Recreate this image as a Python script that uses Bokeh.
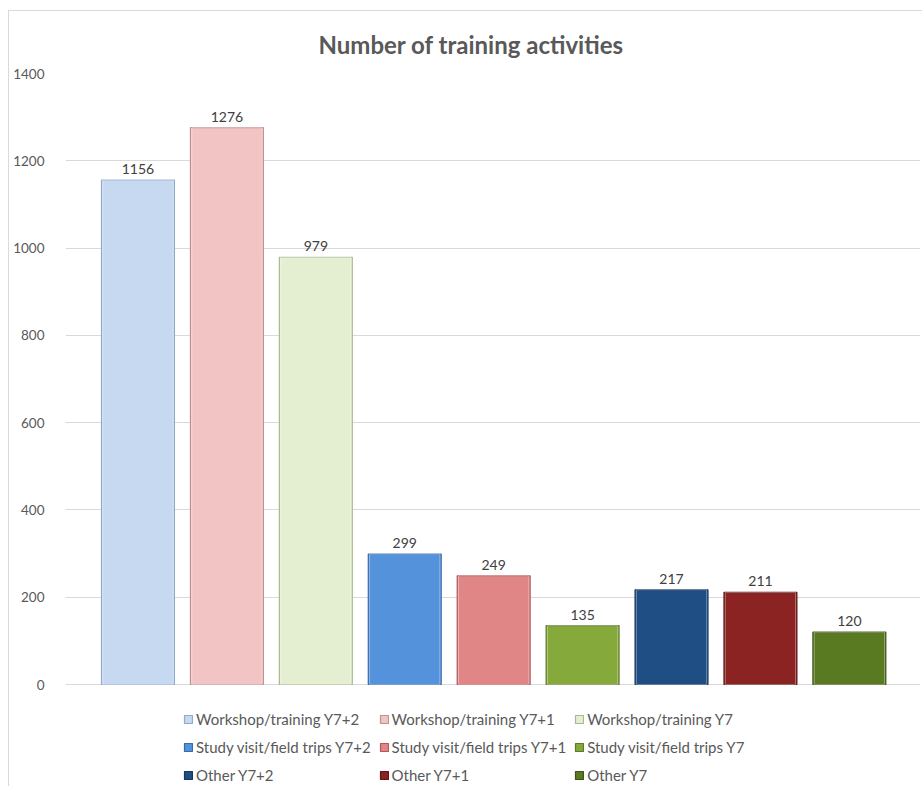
from bokeh.plotting import figure
from bokeh.models import (ColumnDataSource, Range1d, Legend, LegendItem, FixedTicker, Title)
from bokeh.embed import file_html
from bokeh.resources import INLINE
from bokeh.core.properties import value

categories = ["Workshop/training Y7+2", "Workshop/training Y7+1", "Workshop/training Y7",
              "Study visit/field trips Y7+2", "Study visit/field trips Y7+1", "Study visit/field trips Y7",
              "Other Y7+2", "Other Y7+1", "Other Y7"]
counts = [1156, 1276, 979, 299, 249, 135, 217, 211, 120]
fills = ["#c6d9f0", "#f2c4c4", "#e4efd1", "#5592dc", "#e08686", "#86a93b", "#1f4e85", "#8b2322", "#5a7a22"]
lines = ["#8eaacc", "#c09090", "#a8b890", "#3a6aa8", "#b05a5a", "#5e7a28", "#16365c", "#5e1616", "#3d5416"]
y_ticks = [0, 200, 400, 600, 800, 1000, 1200, 1400]

FONT = "Lato"
GREY = "#595959"

src = ColumnDataSource(dict(x=list(range(len(categories))), y=counts, fill=fills, line=lines,
                            label=[str(c) for c in counts], name=categories))

# figure offset by the chart-area border (left 8px, top 10px); frame spans the 1400 line
# down to the page bottom so that the legend fits inside it
p = figure(width=914, height=776, output_backend="svg", toolbar_location=None,
           x_range=Range1d(-0.815, 8.80), y_range=Range1d(-236, 1400),
           min_border_left=56, min_border_right=3, min_border_top=62, min_border_bottom=0)
p.styles = {"margin-left": "8px", "margin-top": "10px",
            "border-left": "1px solid #d9d9d9", "border-top": "1px solid #d9d9d9"}
p.outline_line_color = None
p.background_fill_color = "white"
p.border_fill_color = "white"

bars = p.vbar(x="x", top="y", bottom=0, width=0.82, source=src, fill_color="fill",
              line_color="line", line_width=1.2)
# light inner edge, hinting at the bevelled bars of the original
p.vbar(x="x", top="y", bottom=0, width=0.79, source=src, fill_alpha=0,
       line_color="white", line_alpha=0.35, line_width=1)
p.text(x="x", y="y", text="label", source=src, y_offset=-11, text_align="center",
       text_baseline="alphabetic", text_font=value(FONT), text_font_size="14px",
       text_color="#404040")

p.xaxis.visible = False
p.xgrid.grid_line_color = None

p.yaxis.ticker = FixedTicker(ticks=y_ticks)
p.yaxis.axis_line_color = None
p.yaxis.major_tick_line_color = None
p.yaxis.minor_tick_line_color = None
p.yaxis.major_label_text_font = FONT
p.yaxis.major_label_text_font_size = "13.5px"
p.yaxis.major_label_text_color = GREY
p.yaxis.major_label_standoff = 15
p.ygrid.grid_line_color = "#d9d9d9"
p.ygrid.ticker = FixedTicker(ticks=y_ticks)

t = Title(text="Number of training activities", text_font=FONT, text_font_size="24px",
          text_font_style="bold", text_color=GREY, align="left", offset=253, standoff=30)
p.add_layout(t, "above")

items = [LegendItem(label=categories[i], renderers=[bars], index=i) for i in range(len(categories))]
legend = Legend(items=items, orientation="horizontal", ncols=3, location=(118, 2),
                label_text_font=FONT, label_text_font_size="15px", label_text_color=GREY,
                glyph_width=10, glyph_height=10, label_standoff=3, label_height=20,
                spacing=8, padding=2, margin=0, border_line_color=None,
                background_fill_alpha=0)
p.add_layout(legend, "center")

open("out.html", "w").write(file_html(p, INLINE))
